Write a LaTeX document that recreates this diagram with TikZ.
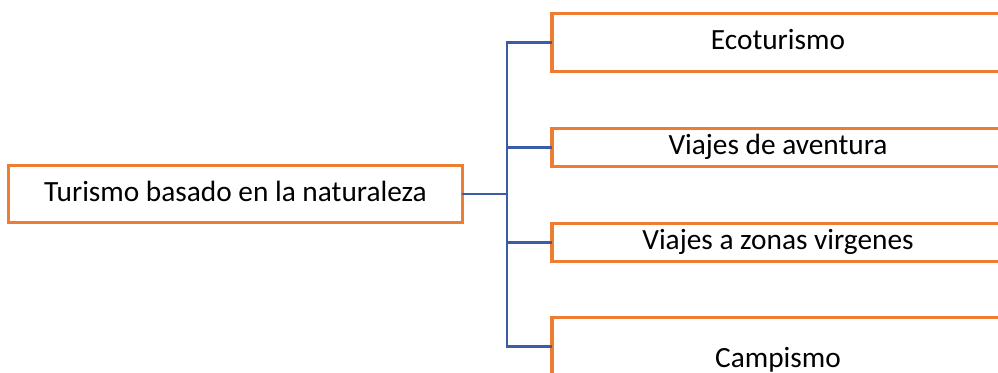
\documentclass[tikz,border=0pt]{standalone}
\usepackage{fontspec}
\setmainfont{Carlito}
\definecolor{boxorange}{RGB}{237,125,49}
\definecolor{linkblue}{RGB}{59,93,168}
\tikzset{every picture/.style={line width=0.75pt}}
\tikzset{
  topicbox/.style={draw=boxorange, line width=2.3pt, fill=white, inner sep=0pt,
    font=\fontsize{22}{26}\selectfont, text=black, text height=15pt, text depth=4.5pt},
  link/.style={draw=linkblue, line width=2.1pt, line cap=rect}
}
\begin{document}
\begin{tikzpicture}[x=0.75pt,y=0.75pt,yscale=-1,xscale=1]
%set diagram left start at 0, and has height of 372
\useasboundingbox (0,0) rectangle (998,372);

% Root Node
\node [topicbox, minimum width=340pt, minimum height=43pt] (root) at (235.5,194) {Turismo basado en la naturaleza};
% Branch Nodes
\node [topicbox, minimum width=339pt, minimum height=44pt] (eco) at (778,42.5) {Ecoturismo};
\node [topicbox, minimum width=339pt, minimum height=29pt] (aventura) at (778,147.5) {Viajes de aventura};
\node [topicbox, minimum width=339pt, minimum height=29pt] (zonas) at (778,242.5) {Viajes a zonas virgenes};
\node [topicbox, minimum width=339pt, minimum height=44pt, text height=36pt] (camp) at (778,346.5) {Campismo};

% Straight Lines
\coordinate (bus) at (507,194);
\draw [link] (root.east) -- (bus);
\draw [link] (bus) |- (eco.west);
\draw [link] (bus) |- (aventura.west);
\draw [link] (bus) |- (zonas.west);
\draw [link] (bus) |- (camp.west);

\end{tikzpicture}
\end{document}
